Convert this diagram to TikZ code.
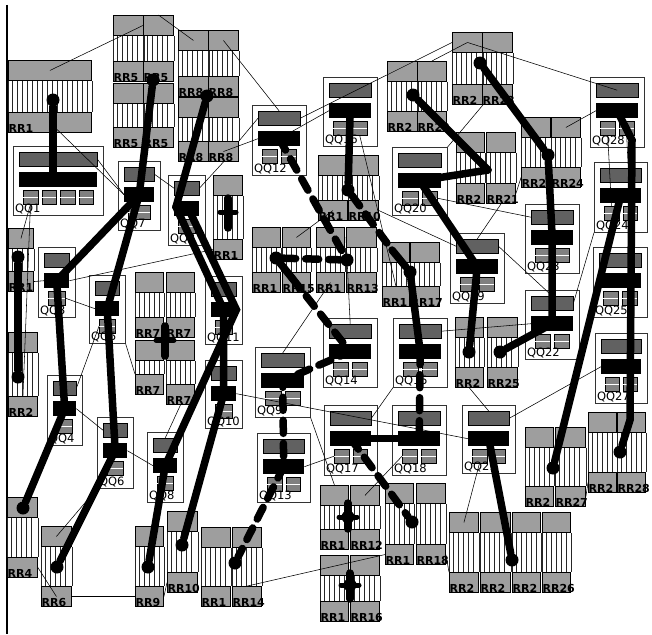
\documentclass[tikz,border=0pt]{standalone}
\usepackage{fontspec}
\newfontfamily\labelfont{DejaVu Sans}
\usetikzlibrary{calc}

\tikzset{
  rrpad/.style={draw=black,line width=0.9pt,fill=black!38,inner sep=0pt,minimum height=20pt,anchor=north west},
  rrline/.style={line width=0.6pt,black!85},
  rrlabel/.style={anchor=south west,inner sep=0.4pt,font=\labelfont\bfseries\fontsize{11}{12}\selectfont},
  qqbox/.style={draw=black!80,line width=0.6pt,fill=white,inner sep=0pt,anchor=north west},
  qqdark/.style={draw=black,fill=black!62,inner sep=0pt,anchor=north west,minimum height=14pt},
  qqblack/.style={fill=black,inner sep=0pt,anchor=north west,minimum height=15pt},
  qqpad/.style={draw=black,fill=black!50,inner sep=0pt,anchor=north west,minimum height=14pt},
  qqlabel/.style={anchor=south west,inner sep=0.8pt,font=\labelfont\fontsize{11.5}{12}\selectfont},
  wire/.style={line width=7.5pt,black,line cap=round},
  dwire/.style={wire,dash pattern=on 13pt off 10pt},
  thin/.style={line width=0.55pt,black},
  blob/.style={circle,fill=black,inner sep=0pt,minimum size=13pt}
}

\newcommand{\rrunit}[6]{%
  \node[rrpad,minimum width=#5pt] (#1-t) at (#2,#3) {};
  \node[rrpad,minimum width=#5pt,anchor=south west] (#1-b) at (#2,#4) {};
  \draw[rrline] (#1-t.south west) -- (#1-b.north west) (#1-t.south east) -- (#1-b.north east);
  \pgfmathtruncatemacro{\rrlast}{#5-3}
  \foreach \k in {4,9,...,\rrlast}
    \draw[rrline] ($(#1-t.south west)+(\k,0)$) -- ($(#1-b.north west)+(\k,0)$);
  \node[rrlabel] (#1-l) at (#1-b.south west) {#6};
}

\newcommand{\qqbox}[7]{%
  \node[qqbox,minimum width=#4pt,minimum height=#5pt] (#1) at (#2,#3) {};
  \node[qqdark,minimum width=#4pt-12pt] (#1d) at ($(#1.north west)+(6,6)$) {};
  \node[qqblack,minimum width=#4pt-12pt] (#1k) at ($(#1.north west)+(6,26)$) {};
  \pgfmathsetmacro{\qqpw}{(#4-20-4*(#7-1))/#7}
  \foreach \j in {1,...,#7} {
    \node[qqpad,minimum width=\qqpw pt] (#1p\j) at ($(#1.north west)+({10+(\j-1)*(\qqpw+4)},44)$) {};
    \draw[white,line width=0.8pt] (#1p\j.west) -- (#1p\j.east);
  }
  \node[qqlabel] (#1l) at ($(#1.south west)+(1,-1)$) {#6};
}

\begin{document}
\begin{tikzpicture}[x=1pt,y=-1pt]
\useasboundingbox (0,0) rectangle (652,634);
\draw[line width=1.2pt] (7,5) -- (7,634);

\rrunit{r1}{8}{60}{133}{83}{RR1}
\rrunit{r5a}{113}{15}{82}{30}{RR5}
\rrunit{r5b}{143}{15}{82}{30}{RR5}
\rrunit{r5c}{113}{83}{148}{30}{RR5}
\rrunit{r5d}{143}{83}{148}{30}{RR5}
\rrunit{r8a}{178}{30}{97}{30}{RR8}
\rrunit{r8b}{208}{30}{97}{30}{RR8}
\rrunit{r8c}{178}{97}{162}{30}{RR8}
\rrunit{r8d}{208}{97}{162}{30}{RR8}
\rrunit{r11}{213}{175}{260}{29}{RR1}
\rrunit{r17s}{8}{228}{292}{25}{RR1}
\rrunit{r2}{8}{332}{417}{29}{RR2}
\rrunit{r7a}{135}{272}{338}{28}{RR7}
\rrunit{r7b}{166}{272}{338}{28}{RR7}
\rrunit{r7c}{135}{340}{395}{28}{RR7}
\rrunit{r7d}{166}{340}{405}{28}{RR7}
\rrunit{r4}{7}{497}{578}{30}{RR4}
\rrunit{r6}{41}{526}{607}{30}{RR6}
\rrunit{r9}{135}{526}{607}{28}{RR9}
\rrunit{r10}{167}{511}{593}{30}{RR10}
\rrunit{r14a}{201}{527}{607}{29}{RR1}
\rrunit{r14b}{232}{527}{607}{29}{RR14}
\rrunit{r15a}{252}{227}{293}{28}{RR1}
\rrunit{r15b}{282}{227}{293}{28}{RR15}
\rrunit{r13a}{316}{227}{293}{28}{RR1}
\rrunit{r13b}{346}{227}{293}{30}{RR13}
\rrunit{r19a}{318}{155}{221}{29}{RR1}
\rrunit{r19b}{348}{155}{221}{30}{RR10}
\rrunit{r17a}{382}{242}{307}{27}{RR1}
\rrunit{r17b}{410}{242}{307}{29}{RR17}
\rrunit{r20a}{387}{61}{132}{30}{RR2}
\rrunit{r20b}{417}{61}{132}{29}{RR22}
\rrunit{r23a}{452}{32}{105}{30}{RR2}
\rrunit{r23b}{482}{32}{105}{30}{RR23}
\rrunit{r21a}{456}{132}{204}{28}{RR2}
\rrunit{r21b}{486}{132}{204}{29}{RR21}
\rrunit{r24a}{521}{117}{188}{29}{RR2}
\rrunit{r24b}{551}{117}{188}{29}{RR24}
\rrunit{r25a}{455}{317}{388}{28}{RR2}
\rrunit{r25b}{487}{317}{388}{30}{RR25}
\rrunit{r12a}{320}{485}{550}{28}{RR1}
\rrunit{r12b}{350}{485}{550}{29}{RR12}
\rrunit{r16a}{320}{555}{622}{28}{RR1}
\rrunit{r16b}{350}{555}{622}{29}{RR16}
\rrunit{r18a}{385}{483}{565}{28}{RR1}
\rrunit{r18b}{416}{483}{565}{29}{RR18}
\rrunit{r27a}{525}{427}{507}{28}{RR2}
\rrunit{r27b}{555}{427}{507}{30}{RR27}
\rrunit{r28a}{588}{412}{493}{28}{RR2}
\rrunit{r28b}{617}{412}{493}{28}{RR28}
\rrunit{r29a}{449}{512}{593}{29}{RR2}
\rrunit{r29b}{480}{512}{593}{30}{RR2}
\rrunit{r29c}{512}{512}{593}{28}{RR2}
\rrunit{r29d}{542}{512}{593}{28}{RR26}

\qqbox{q1}{13}{146}{90}{69}{QQ1}{4}
\qqbox{q7}{118}{161}{42}{69}{QQ7}{1}
\qqbox{q2}{168}{175}{37}{70}{QQ2}{1}
\qqbox{q3}{38}{247}{37}{70}{QQ3}{1}
\qqbox{q5}{89}{275}{36}{68}{QQ5}{1}
\qqbox{q4}{47}{375}{35}{70}{QQ4}{1}
\qqbox{q6}{97}{417}{36}{71}{QQ6}{1}
\qqbox{q8}{147}{432}{36}{70}{QQ8}{1}
\qqbox{q11}{205}{276}{37}{68}{QQ11}{1}
\qqbox{q10}{205}{360}{37}{68}{QQ10}{1}
\qqbox{q12}{252}{105}{54}{70}{QQ12}{2}
\qqbox{q16}{323}{77}{54}{69}{QQ16}{2}
\qqbox{q20}{392}{147}{55}{68}{QQ20}{2}
\qqbox{q9}{255}{347}{55}{70}{QQ9}{2}
\qqbox{q14}{323}{318}{54}{69}{QQ14}{2}
\qqbox{q15}{393}{318}{54}{69}{QQ15}{2}
\qqbox{q17}{324}{405}{53}{70}{QQ17}{2}
\qqbox{q18}{392}{405}{54}{70}{QQ18}{2}
\qqbox{q13}{257}{433}{53}{69}{QQ13}{2}
\qqbox{q21}{462}{405}{53}{68}{QQ21}{2}
\qqbox{q19}{450}{233}{54}{70}{QQ19}{2}
\qqbox{q23}{525}{204}{54}{69}{QQ23}{2}
\qqbox{q22}{525}{290}{54}{69}{QQ22}{2}
\qqbox{q28}{590}{77}{54}{70}{QQ28}{2}
\qqbox{q24}{594}{162}{53}{70}{QQ24}{2}
\qqbox{q25}{593}{247}{54}{70}{QQ25}{2}
\qqbox{q27}{595}{333}{52}{70}{QQ27}{2}

\draw[thin] (r1-t.center) -- (r5b-t.west);
\draw[thin] (r5b-t.north) -- (r8a-t.center);
\draw[thin] (r8b-t.center) -- (q12d.north);
\draw[thin] (r1-b.center) -- (q7k.west);
\draw[thin] (q1d.east) -- (q7k.west);
\draw[thin] (q7d.east) -- (q2d.west);
\draw[thin] (r8d-b.center) -- (q12k.west);
\draw[thin] (r8d-b.north east) -- (q12d.west);
\draw[thin] (q12d.east) -- (r23a-t.west);
\draw[thin] (q12k.center) -- (q16k.west);
\draw[thin] (r23a-t.center) -- (r20b-t.north);
\draw[thin] (r23a-t.center) -- (q28d.center);
\draw[thin] (r24b-t.center) -- (q28k.west);
\draw[thin] (r23a-b.south east) -- (q20.north east);
\draw[thin] (q20p2.east) -- (q23d.west);
\draw[thin] (q19d.east) -- (q22d.north);
\draw[thin] (q15d.east) -- (q22k.west);
\draw[thin] (q22d.east) -- (q24.south west);
\draw[thin] (q27k.west) -- (q21d.east);
\draw[thin] (r25a-b.south) -- (q21d.north);
\draw[thin] (q10k.east) -- (q21k.west);
\draw[thin] (q3k.east) -- (r11-b.west);
\draw[thin] (q3p1.east) -- (q5k.west);
\draw[thin] (q5p1.west) -- (q4d.east);
\draw[thin] (r17s-b.east) -- (q3k.west);
\draw[thin] (r17s-t.center) -- (q1p1.south);
\draw[thin] (q1p1.south) -- (r2-b.north);
\draw[thin] (q4k.east) -- (q6d.west);
\draw[thin] (q6k.east) -- (q8k.west);
\draw[thin] (r6-t.center) -- (q6.south west);
\draw[thin] (r4-b.east) -- (r6-b.center);
\draw[thin] (r6-b.east) -- (r9-b.west);
\draw[thin] (r9-b.east) -- (r10-b.west);
\draw[thin] (r14b-b.north) -- (r18a-b.west);
\draw[thin] (q13k.east) -- (q17p1.west);
\draw[thin] (q9.south east) -- (r12a-t.north);
\draw[thin] (q18p1.west) -- (r12b-t.center);
\draw[thin] (q21p1.south) -- (r29a-t.center);
\draw[thin] (r27b-b.east) -- (r28a-b.west);
\draw[thin] (r18b-b.east) -- (r29a-b.north west);
\draw[thin] (q16p2.south) -- (r17a-b.north);
\draw[thin] (r19b-b.east) -- (q19d.west);
\draw[thin] (r19a-b.center) -- (r15b-t.center);
\draw[thin] (r13a-b.center) -- (q9d.north);
\draw[thin] (r13b-t.west) -- (q14d.north);
\draw[thin] (q15.south west) -- (q17d.east);
\draw[thin] (q5.south east) -- (r7c-b.north west);
\draw[thin] (r7d-b.south) -- (q8d.north);
\draw[thin] (q2d.east) -- (r8d-b.south);
\draw[thin] (q28p1.south) -- (q24p1.north);
\draw[thin] (q28p2.south) -- (q24p2.north);
\draw[thin] (r21b-b.east) -- (r24a-b.west);
\draw[thin] (r21b-b.south) -- (q19d.north);

\node[blob] (b1) at (53,100) {};
\node[blob] (b2) at (153,80) {};
\node[blob] (b3) at (207,96) {};
\node[blob] (b4) at (18,257) {};
\node[blob] (b5) at (18,377) {};
\node[blob] (b6) at (23,508) {};
\node[blob] (b7) at (57,567) {};
\node[blob] (b8) at (148,567) {};
\node[blob] (b9) at (182,545) {};
\node[blob] (b10) at (235,563) {};
\node[blob] (b11) at (348,190) {};
\node[blob] (b12) at (276,258) {};
\node[blob] (b13) at (347,260) {};
\node[blob] (b14) at (410,272) {};
\node[blob] (b15) at (348,517) {};
\node[blob] (b16) at (350,585) {};
\node[blob] (b17) at (412,522) {};
\node[blob] (b18) at (480,63) {};
\node[blob] (b19) at (413,95) {};
\node[blob] (b20) at (548,155) {};
\node[blob] (b21) at (469,352) {};
\node[blob] (b22) at (500,352) {};
\node[blob] (b23) at (553,468) {};
\node[blob] (b24) at (620,452) {};
\node[blob] (b25) at (512,560) {};
\coordinate (x11) at (228,212);
\coordinate (x7) at (165,340);
\coordinate (j1) at (176,207);
\coordinate (j2) at (190,212);
\coordinate (j3) at (292,278);
\coordinate (j4) at (392,250);
\coordinate (j5) at (488,170);
\coordinate (j6) at (632,140);
\coordinate (j7) at (630,420);

\draw[wire] (b1) -- (b1 |- q1k.center);
\draw[wire] (b2) -- (q7k.center) -- (q3k.center) -- (q4k.center) -- (b6);
\draw[wire] (q7k.center) -- (q5k.center) -- (q6k.center) -- (b7);
\draw[wire] (b3) -- (j1) -- (q11k.center) -- (q10k.center) -- (b9);
\draw[wire] (j1) -- (j2) -- (q11k.east) -- (q8k.center) -- (b8);
\draw[wire] (b4) -- (b5);
\draw[dwire] (q12k.center) -- (b13);
\draw[dwire] (b12) -- (b13);
\draw[wire] (b12) -- (j3);
\draw[dwire] (j3) -- (q14k.center) -- (q9k.center) -- (q13k.center) -- (b10);
\draw[wire] (q16k.center) -- (b11);
\draw[dwire] (b11) -- (j4);
\draw[wire] (j4) -- (b14) -- (q15k.center);
\draw[dwire] (q15k.center) -- (q18k.center);
\draw[wire] (q17k.center) -- (q18k.center);
\draw[dwire] (q17k.center) -- (b17);
\draw[wire] (b18) -- (b20) -- (q23k.center) -- (q22k.center) -- (b22);
\draw[wire] (b19) -- (j5);
\draw[wire] (q20k.center) -- (j5);
\draw[wire] (q20k.center) -- (q19k.center) -- (b21);
\draw[wire] (q24k.center) -- (b23);
\draw[wire] (q28k.center) -- (j6) -- (j7) -- (b24);
\draw[wire] (q21k.center) -- (b25);
\draw[wire] ($(x11)+(0,-14)$) -- ($(x11)+(0,16)$);
\draw[wire,line width=5pt] ($(x11)+(-8,0)$) -- ($(x11)+(8,0)$);
\draw[wire] ($(x7)+(0,-14)$) -- ($(x7)+(0,16)$);
\draw[wire,line width=5pt] ($(x7)+(-9,0)$) -- ($(x7)+(9,0)$);
\draw[wire] ($(b15)+(0,-14)$) -- ($(b15)+(0,12)$);
\draw[wire,line width=5pt] ($(b15)+(-9,0)$) -- ($(b15)+(9,0)$);
\draw[wire] ($(b16)+(0,-12)$) -- ($(b16)+(0,14)$);
\draw[wire,line width=5pt] ($(b16)+(-9,0)$) -- ($(b16)+(9,0)$);
\end{tikzpicture}
\end{document}
